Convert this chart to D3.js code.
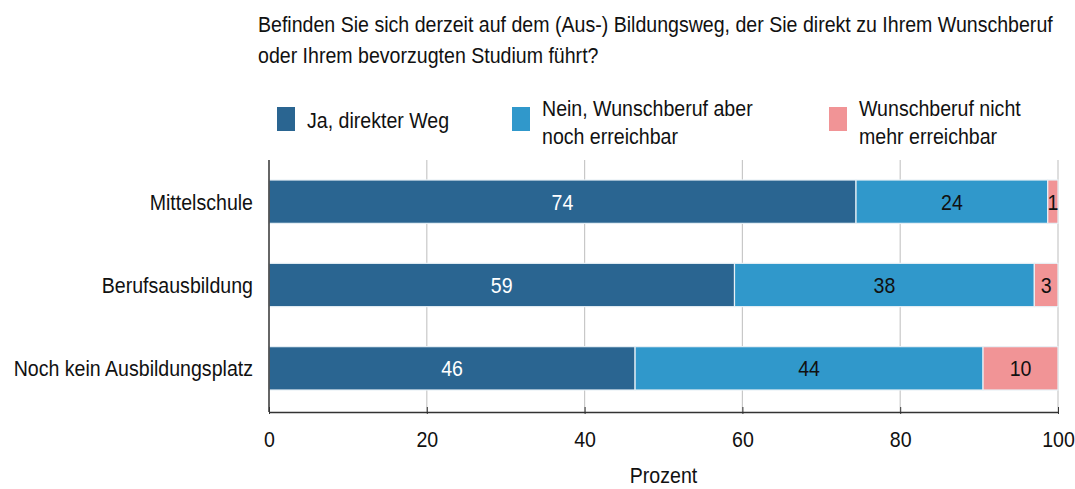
<!DOCTYPE html>
<html><head><meta charset="utf-8">
<script src="https://cdn.jsdelivr.net/npm/d3@7"></script>
<style>body{margin:0;background:#fff}svg{display:block}text{font-family:"Liberation Sans",Arial,sans-serif}</style>
</head><body>
<svg id="c" width="1075" height="489"></svg>
<script>
const titleLines = ["Befinden Sie sich derzeit auf dem (Aus-) Bildungsweg, der Sie direkt zu Ihrem Wunschberuf",
                    "oder Ihrem bevorzugten Studium führt?"];
const categories = ["Mittelschule", "Berufsausbildung", "Noch kein Ausbildungsplatz"];
const seriesNames = ["Ja, direkter Weg", "Nein, Wunschberuf aber noch erreichbar", "Wunschberuf nicht mehr erreichbar"];
const legendLines = [["Ja, direkter Weg"], ["Nein, Wunschberuf aber", "noch erreichbar"], ["Wunschberuf nicht", "mehr erreichbar"]];
const direkt = [74.4, 59.0, 46.4];
const erreichbar = [24.3, 38.0, 44.1];
const nichtMehr = [1.3, 3.0, 9.5];
const valueLabels = [[74, 24, 1], [59, 38, 3], [46, 44, 10]];
const xTicks = [0, 20, 40, 60, 80, 100];
const colors = ["#2a6591", "#3098cb", "#f19496"];
const textColors = ["#ffffff", "#111111", "#111111"];

const SX = 0.89, FS = 22;
const svg = d3.select("#c");
const x = d3.scaleLinear().domain([0, 100]).range([269, 1058]);
const y = d3.scaleBand().domain(categories).range([160, 410]).paddingInner(0.48).paddingOuter(0.24);

function label(g, px, py, str, anchor, fill) {
  return g.append("text").attr("transform", `translate(${px},${py}) scale(${SX},1)`)
    .attr("text-anchor", anchor || "start").attr("font-size", FS).attr("fill", fill || "#111").text(str);
}

// title
const tg = svg.append("g");
titleLines.forEach((t, i) => label(tg, 258, 32 + i * 31, t));

// legend
const legX = [277, 512, 829];
const lg = svg.append("g");
seriesNames.forEach((s, i) => {
  lg.append("rect").attr("x", legX[i]).attr("y", 107).attr("width", 18).attr("height", 24).attr("fill", colors[i]);
  const lines = legendLines[i];
  lines.forEach((t, j) => label(lg, legX[i] + 30, lines.length === 1 ? 128 : 116 + j * 28, t));
});

// gridlines
svg.append("g").selectAll("line").data(xTicks.slice(1)).join("line")
  .attr("x1", d => x(d)).attr("x2", d => x(d)).attr("y1", 160).attr("y2", 412)
  .attr("stroke", "#c8c8c8").attr("stroke-width", 1.2);

// bars
const series = [direkt, erreichbar, nichtMehr];
const rows = categories.map((c, i) => {
  let acc = 0;
  return series.map((s, k) => { const r = {cat: c, k, x0: acc, x1: acc + s[i], label: valueLabels[i][k]}; acc += s[i]; return r; });
});
const segs = rows.flat();
svg.append("g").selectAll("rect").data(segs).join("rect")
  .attr("x", d => x(d.x0)).attr("width", d => x(d.x1) - x(d.x0))
  .attr("y", d => y(d.cat)).attr("height", y.bandwidth())
  .attr("fill", d => colors[d.k]).attr("stroke", "#e8f0f6").attr("stroke-width", 1.2);
const vg = svg.append("g");
segs.forEach(d => label(vg, (x(d.x0) + x(d.x1)) / 2, y(d.cat) + y.bandwidth() / 2 + 8, d.label, "middle", textColors[d.k]));

// y axis
const ya = svg.append("g").attr("transform", "translate(269,0)").call(d3.axisLeft(y).tickSize(0).tickPadding(16));
ya.select(".domain").attr("stroke", "#333").attr("stroke-width", 1.5).attr("d", "M0,160V412");
ya.selectAll(".tick text").attr("font-size", FS).attr("fill", "#111").attr("font-family", "Liberation Sans, Arial, sans-serif")
  .attr("x", -16 / SX).attr("dy", "0.36em").attr("transform", `scale(${SX},1)`);

// x axis
const xa = svg.append("g").attr("transform", "translate(0,412)")
  .call(d3.axisBottom(x).tickValues(xTicks).tickSize(6).tickPadding(16).tickSizeOuter(0));
xa.select(".domain").attr("stroke", "#333").attr("stroke-width", 1.5);
xa.selectAll(".tick line").attr("stroke", "#333").attr("y1", -5).attr("y2", 2);
xa.selectAll(".tick text").attr("font-size", FS).attr("fill", "#111").attr("font-family", "Liberation Sans, Arial, sans-serif")
  .attr("y", 35).attr("dy", 0).attr("transform", `scale(${SX},1)`);

label(svg, x(50), 483, "Prozent", "middle");
</script>
</body></html>
